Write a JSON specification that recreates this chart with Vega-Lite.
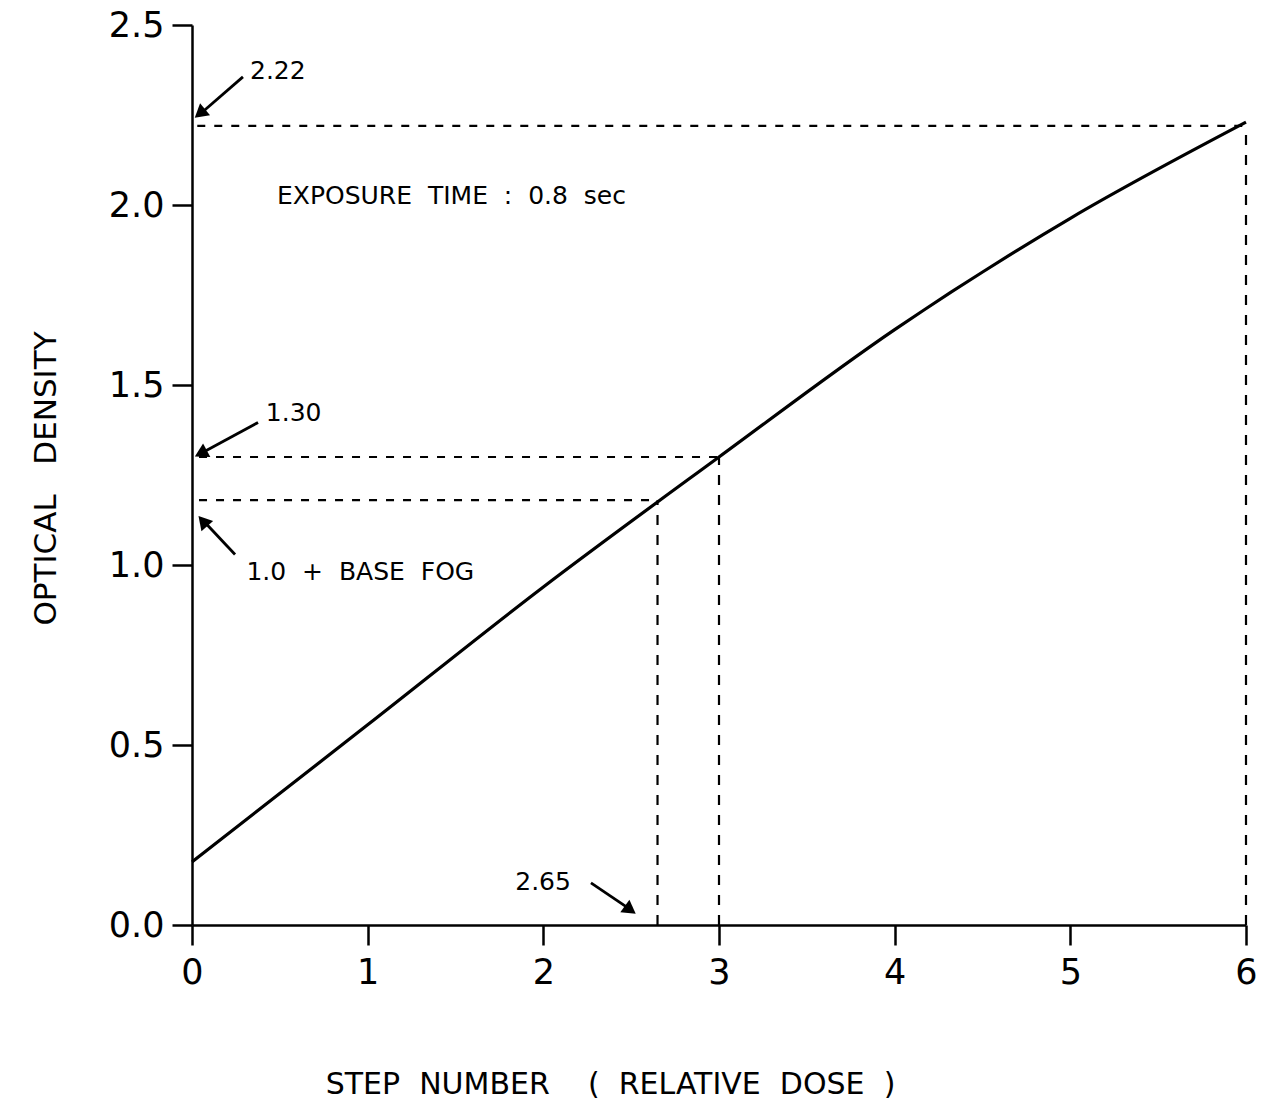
{
  "$schema": "https://vega.github.io/schema/vega-lite/v6.json",
  "width": 1054,
  "height": 900,
  "autosize": {"type": "none"},
  "padding": {"left": 192, "top": 25, "right": 28, "bottom": 188},
  "background": "white",
  "config": {
    "view": {"stroke": null},
    "axis": {
      "grid": false,
      "domainColor": "black",
      "domainWidth": 2.5,
      "tickColor": "black",
      "tickWidth": 2.5,
      "tickSize": 20,
      "labelFont": "DejaVu Sans",
      "labelFontSize": 35,
      "labelColor": "black",
      "labelFlush": false,
      "titleFont": "DejaVu Sans",
      "titleFontWeight": "normal",
      "titleColor": "black",
      "titleFontSize": 28
    }
  },
  "datasets": {
    "curve": [
      {"step": 0, "density": 0.175},
      {"step": 1, "density": 0.556},
      {"step": 2, "density": 0.939},
      {"step": 3, "density": 1.30},
      {"step": 4, "density": 1.654},
      {"step": 5, "density": 1.963},
      {"step": 6, "density": 2.23}
    ],
    "hlines": [
      {"y": 2.22, "x0": 0.03, "x1": 6},
      {"y": 1.30, "x0": 0.04, "x1": 3},
      {"y": 1.18, "x0": 0.04, "x1": 2.65}
    ],
    "vlines": [
      {"x": 6, "y0": 0, "y1": 2.22},
      {"x": 3, "y0": 0, "y1": 1.30},
      {"x": 2.65, "y0": 0, "y1": 1.18}
    ],
    "labels": [
      {"x": 0.33, "y": 2.35, "label": "2.22"},
      {"x": 0.42, "y": 1.401, "label": "1.30"},
      {"x": 0.484, "y": 2.003, "label": "EXPOSURE\u00a0\u00a0TIME\u00a0\u00a0:\u00a0\u00a00.8\u00a0\u00a0sec"},
      {"x": 0.31, "y": 0.957, "label": "1.0\u00a0\u00a0+\u00a0\u00a0BASE\u00a0\u00a0FOG"},
      {"x": 1.84, "y": 0.097, "label": "2.65"}
    ],
    "arrows": [
      {"x0": 0.29, "y0": 2.356, "x1": 0.04, "y1": 2.25},
      {"x0": 0.376, "y0": 1.396, "x1": 0.05, "y1": 1.31},
      {"x0": 0.245, "y0": 1.029, "x1": 0.07, "y1": 1.12},
      {"x0": 2.271, "y0": 0.117, "x1": 2.49, "y1": 0.045}
    ],
    "heads": [
      {"x": 0.045, "y": 2.254, "angle": 230},
      {"x": 0.05, "y": 1.31, "angle": 242},
      {"x": 0.062, "y": 1.122, "angle": 319},
      {"x": 2.495, "y": 0.042, "angle": 126}
    ]
  },
  "layer": [
    {
      "data": {"name": "curve"},
      "mark": {"type": "line", "color": "black", "strokeWidth": 3.2, "interpolate": "monotone"},
      "encoding": {
        "x": {
          "field": "step", "type": "quantitative",
          "scale": {"domain": [0, 6], "nice": false, "zero": false},
          "axis": {
            "values": [0, 1, 2, 3, 4, 5, 6],
            "format": "d",
            "labelPadding": 10,
            "title": "STEP\u00a0\u00a0NUMBER\u00a0\u00a0\u00a0\u00a0(\u00a0\u00a0RELATIVE\u00a0\u00a0DOSE\u00a0\u00a0)",
            "titleFontSize": 30,
            "titleX": 418,
            "titleY": 168,
            "titleAlign": "center",
            "titleBaseline": "alphabetic"
          }
        },
        "y": {
          "field": "density", "type": "quantitative",
          "scale": {"domain": [0, 2.5], "nice": false},
          "axis": {
            "values": [0, 0.5, 1, 1.5, 2, 2.5],
            "format": ".1f",
            "labelPadding": 8,
            "title": "OPTICAL\u00a0\u00a0\u00a0DENSITY",
            "titleFontSize": 31,
            "titleX": -137,
            "titleY": 453,
            "titleAngle": -90,
            "titleAlign": "center",
            "titleBaseline": "alphabetic"
          }
        }
      }
    },
    {
      "data": {"name": "hlines"},
      "mark": {"type": "rule", "color": "black", "strokeWidth": 2.2, "strokeDash": [8, 9]},
      "encoding": {
        "x": {"field": "x0", "type": "quantitative"},
        "x2": {"field": "x1"},
        "y": {"field": "y", "type": "quantitative"}
      }
    },
    {
      "data": {"name": "vlines"},
      "mark": {"type": "rule", "color": "black", "strokeWidth": 2.2, "strokeDash": [10, 10]},
      "encoding": {
        "x": {"field": "x", "type": "quantitative"},
        "y": {"field": "y0", "type": "quantitative"},
        "y2": {"field": "y1"}
      }
    },
    {
      "data": {"name": "arrows"},
      "mark": {"type": "rule", "color": "black", "strokeWidth": 2.8},
      "encoding": {
        "x": {"field": "x0", "type": "quantitative"},
        "y": {"field": "y0", "type": "quantitative"},
        "x2": {"field": "x1"},
        "y2": {"field": "y1"}
      }
    },
    {
      "data": {"name": "heads"},
      "mark": {"type": "point", "shape": "triangle-up", "filled": true, "color": "black", "size": 240, "opacity": 1},
      "encoding": {
        "x": {"field": "x", "type": "quantitative"},
        "y": {"field": "y", "type": "quantitative"},
        "angle": {"field": "angle", "type": "quantitative", "scale": null}
      }
    },
    {
      "data": {"name": "labels"},
      "mark": {"type": "text", "font": "DejaVu Sans", "fontSize": 25, "align": "left", "baseline": "alphabetic", "color": "black"},
      "encoding": {
        "x": {"field": "x", "type": "quantitative"},
        "y": {"field": "y", "type": "quantitative"},
        "text": {"field": "label"}
      }
    }
  ]
}
